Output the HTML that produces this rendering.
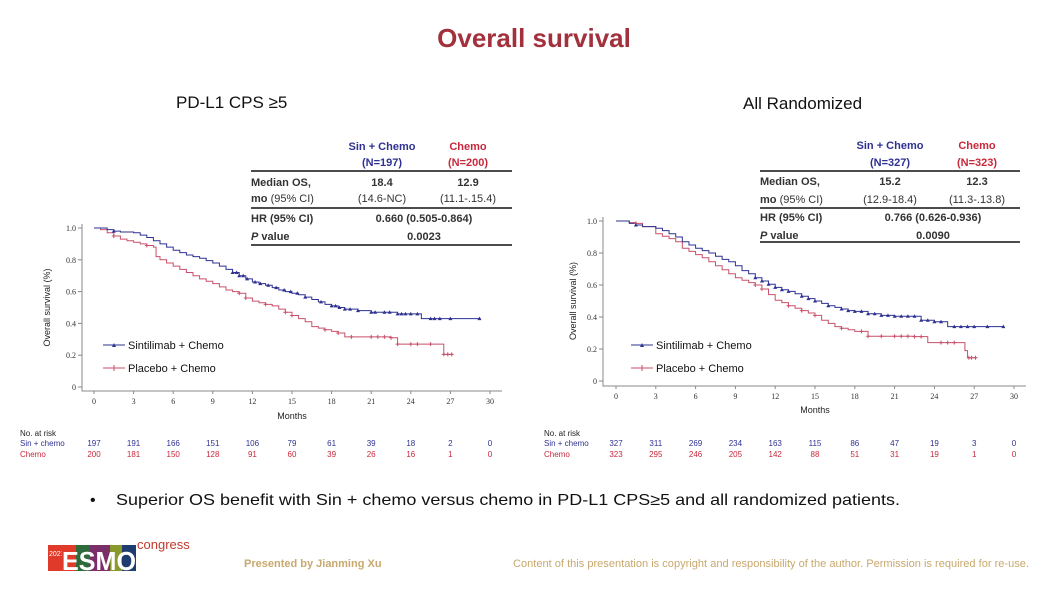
<!DOCTYPE html>
<html><head><meta charset="utf-8">
<style>
html,body{margin:0;padding:0;background:#fff;}
svg{display:block;font-family:"Liberation Sans",Arial,sans-serif;}
.tk{font-family:"Liberation Serif",serif;font-size:8px;fill:#333;}
</style></head>
<body>
<svg id="s" width="1061" height="593" viewBox="0 0 1061 593" xmlns="http://www.w3.org/2000/svg">
<text x="534" y="47" text-anchor="middle" font-size="26" font-weight="bold" fill="#a3313d">Overall survival</text>
<text x="176" y="108" font-size="17" fill="#111">PD-L1 CPS ≥5</text>
<text x="743" y="109" font-size="17" fill="#111">All Randomized</text>

<g font-size="11" font-weight="bold">
<text x="382" y="150" text-anchor="middle" fill="#2e3192">Sin + Chemo</text>
<text x="382" y="166" text-anchor="middle" fill="#2e3192">(N=197)</text>
<text x="468" y="150" text-anchor="middle" fill="#c8283c">Chemo</text>
<text x="468" y="166" text-anchor="middle" fill="#c8283c">(N=200)</text>
<line x1="251" y1="171" x2="512" y2="171" stroke="#111" stroke-width="1.5"/>
<text x="251" y="186" fill="#333">Median OS,</text>
<text x="251" y="202" fill="#333">mo <tspan font-weight="normal">(95% CI)</tspan></text>
<text x="382" y="186" text-anchor="middle" fill="#333">18.4</text>
<text x="468" y="186" text-anchor="middle" fill="#333">12.9</text>
<text x="382" y="202" text-anchor="middle" fill="#333" font-weight="normal">(14.6-NC)</text>
<text x="468" y="202" text-anchor="middle" fill="#333" font-weight="normal">(11.1-.15.4)</text>
<line x1="251" y1="208" x2="512" y2="208" stroke="#111" stroke-width="1.5"/>
<text x="251" y="222" fill="#333">HR (95% CI)</text>
<text x="424" y="222" text-anchor="middle" fill="#333">0.660 (0.505-0.864)</text>
<text x="251" y="240" fill="#333"><tspan font-style="italic">P</tspan> value</text>
<text x="424" y="240" text-anchor="middle" fill="#333">0.0023</text>
<line x1="251" y1="245" x2="512" y2="245" stroke="#111" stroke-width="1.5"/>
</g>

<g font-size="11" font-weight="bold">
<text x="890" y="149" text-anchor="middle" fill="#2e3192">Sin + Chemo</text>
<text x="890" y="166" text-anchor="middle" fill="#2e3192">(N=327)</text>
<text x="977" y="149" text-anchor="middle" fill="#c8283c">Chemo</text>
<text x="977" y="166" text-anchor="middle" fill="#c8283c">(N=323)</text>
<line x1="760" y1="171" x2="1020" y2="171" stroke="#111" stroke-width="1.5"/>
<text x="760" y="185" fill="#333">Median OS,</text>
<text x="760" y="203" fill="#333">mo <tspan font-weight="normal">(95% CI)</tspan></text>
<text x="890" y="185" text-anchor="middle" fill="#333">15.2</text>
<text x="977" y="185" text-anchor="middle" fill="#333">12.3</text>
<text x="890" y="203" text-anchor="middle" fill="#333" font-weight="normal">(12.9-18.4)</text>
<text x="977" y="203" text-anchor="middle" fill="#333" font-weight="normal">(11.3-.13.8)</text>
<line x1="760" y1="208" x2="1020" y2="208" stroke="#111" stroke-width="1.5"/>
<text x="760" y="221" fill="#333">HR (95% CI)</text>
<text x="933" y="221" text-anchor="middle" fill="#333">0.766 (0.626-0.936)</text>
<text x="760" y="239" fill="#333"><tspan font-style="italic">P</tspan> value</text>
<text x="933" y="239" text-anchor="middle" fill="#333">0.0090</text>
<line x1="760" y1="242" x2="1020" y2="242" stroke="#111" stroke-width="1.5"/>
</g>

<g id="left"></g>
<g id="right"></g>

<text x="90" y="505" font-size="16" fill="#111">•</text>
<text x="116" y="505" font-size="16" fill="#111" textLength="784" lengthAdjust="spacingAndGlyphs">Superior OS benefit with Sin + chemo versus chemo in PD-L1 CPS≥5 and all randomized patients.</text>

<g>
<rect x="48" y="545" width="14" height="26" fill="#e03a2a"/>
<text x="49" y="556" font-size="7" fill="#fff">2021</text>
<rect x="62" y="545" width="14" height="26" fill="#e03a2a"/>
<rect x="76" y="545" width="14" height="26" fill="#2f6b3a"/>
<rect x="90" y="545" width="20" height="26" fill="#7a2e6a"/>
<rect x="110" y="545" width="12" height="26" fill="#8a9a2a"/>
<rect x="122" y="545" width="14" height="26" fill="#1f3c6e"/>
<text x="62" y="570" font-size="26" font-weight="bold" fill="#fff" textLength="74" lengthAdjust="spacingAndGlyphs">ESMO</text>
<text x="137" y="549" font-size="13" fill="#c0392b">congress</text>
</g>
<text x="244" y="567" font-size="11" fill="#c8a86e" font-weight="bold">Presented by Jianming Xu</text>
<text x="1029" y="567" text-anchor="end" font-size="11" fill="#c8a86e" textLength="516" lengthAdjust="spacingAndGlyphs">Content of this presentation is copyright and responsibility of the author. Permission is required for re-use.</text>
</svg>
<script>
const xTicks = [0,3,6,9,12,15,18,21,24,27,30];
const yTicks = [0,0.2,0.4,0.6,0.8,1.0];
const yTickLabels = ['0','0.2','0.4','0.6','0.8','1.0'];
// Left (PD-L1 CPS>=5)
const L_sinT = [0,1,1.5,2,3,3.5,4,4.5,5,5.5,6,6.5,7,7.5,8,8.5,9,9.5,10,10.5,11,11.5,12,12.5,13,13.5,14,14.5,15,15.5,16,16.5,17,17.5,18,18.5,19,20,21,22,23,24,24.8,29.3];
const L_sinS = [1,.99,.98,.975,.97,.955,.94,.92,.9,.88,.86,.845,.83,.82,.81,.795,.78,.76,.74,.72,.70,.68,.66,.65,.64,.625,.61,.60,.59,.58,.565,.55,.535,.52,.51,.50,.49,.48,.47,.47,.46,.46,.43,.43];
const L_cheT = [0,.5,1,1.5,2,2.5,3,3.5,4,4.5,4.7,5,5.5,6,6.5,7,7.5,8,8.5,9,9.5,10,10.5,11,11.5,12,12.5,13,13.5,14,14.5,15,15.5,16,16.5,17,17.5,18,18.5,19,21,22.5,23,25,26.5,27.2];
const L_cheS = [1,.99,.97,.95,.93,.92,.91,.9,.89,.88,.82,.80,.78,.76,.74,.72,.70,.68,.665,.65,.63,.61,.60,.59,.56,.54,.53,.52,.51,.49,.47,.45,.43,.41,.38,.37,.36,.35,.34,.315,.315,.31,.27,.27,.205,.205];
const L_sinCens = [1.5,10.5,10.8,11,11.3,11.6,12.2,12.6,13.2,13.8,14.4,14.9,15.4,16,17.2,18,18.3,18.6,19,19.4,20,21,21.3,22,22.4,23,23.3,23.6,24,24.5,25.5,25.8,26.2,27,29.2];
const L_cheCens = [1.5,4,11,11.5,13,14.5,15,17.5,18.5,19.5,21,21.5,22,22.5,23,24,24.5,25.5,26.5,26.8,27.1];
const L_riskSin = [197,191,166,151,106,79,61,39,18,2,0];
const L_riskChe = [200,181,150,128,91,60,39,26,16,1,0];
// Right (All randomized)
const R_sinT = [0,1,1.5,2,3,3.5,4,4.5,5,5.5,6,6.5,7,7.5,8,8.5,9,9.5,10,10.5,11,11.5,12,12.5,13,13.5,14,14.5,15,15.5,16,16.5,17,17.5,18,19,20,21,22.5,23,24,25,29.2];
const R_sinS = [1,.985,.975,.965,.955,.94,.92,.9,.87,.85,.83,.815,.8,.78,.76,.745,.72,.69,.67,.645,.625,.605,.585,.57,.56,.545,.53,.515,.50,.485,.47,.46,.45,.44,.435,.42,.41,.405,.405,.38,.37,.34,.34];
const R_cheT = [0,1,1.5,2,3,3.5,4,4.5,5,5.5,6,6.5,7,7.5,8,8.5,9,9.5,10,10.5,11,11.5,12,12.5,13,13.5,14,14.5,15,15.5,16,16.5,17,17.5,18,19,22.5,23.5,26,26.3,26.5,27.2];
const R_cheS = [1,.99,.985,.965,.92,.905,.89,.87,.83,.81,.79,.77,.745,.72,.695,.67,.645,.63,.615,.60,.575,.54,.505,.49,.47,.455,.44,.425,.41,.38,.36,.34,.33,.32,.31,.28,.277,.24,.24,.19,.145,.145];
const R_sinCens = [1.5,10.5,11,11.5,12,12.5,13,14,14.5,15,16,17,17.5,18,18.5,19,19.5,20,20.5,21,21.5,22,22.5,23,23.5,24,24.5,25.5,26,26.5,27,28,29.2];
const R_cheCens = [1.5,10.5,11,13,14,15,17,18.5,19,20,21,21.5,22,22.5,23,24.5,25,25.5,26.6,26.8,27.1];
const R_riskSin = [327,311,269,234,163,115,86,47,19,3,0];
const R_riskChe = [323,295,246,205,142,88,51,31,19,1,0];

const NS='http://www.w3.org/2000/svg';
function mk(parent,tag,attrs,text){const e=document.createElementNS(NS,tag);for(const k in attrs)e.setAttribute(k,attrs[k]);if(text!==undefined)e.textContent=text;parent.appendChild(e);return e;}
const BLUE='#2e3192', RED='#c8506a';
function drawKM(g,c,sinT,sinS,cheT,cheS,sinC,cheC,rSin,rChe){
  const X=t=>c.x0+(c.x1-c.x0)*t/30;
  const Y=s=>c.y0+(c.y1-c.y0)*s;
  const surv=(T,S,t)=>{let v=S[0];for(let i=0;i<T.length;i++){if(T[i]<=t)v=S[i];}return v;};
  const ax=mk(g,'path',{d:`M${c.ax} ${c.y1-4}V${c.bx}H${X(30)+12}`,fill:'none',stroke:'#888','stroke-width':1});
  
  
  xTicks.forEach(t=>{
    mk(g,'line',{x1:X(t),x2:X(t),y1:c.bx,y2:c.bx+3,stroke:'#888'});
    const l=mk(g,'text',{x:X(t),y:c.bx+13,'text-anchor':'middle',class:'tk'},String(t));
    
    
  });
  yTicks.forEach((v,i)=>{
    mk(g,'line',{x1:c.ax-4,x2:c.ax,y1:Y(v),y2:Y(v),stroke:'#888'});
    const l=mk(g,'text',{x:c.ax-6,y:Y(v)+3,'text-anchor':'end',class:'tk'},yTickLabels[i]);
    
    
  });
  const xt=mk(g,'text',{x:(X(0)+X(30))/2,y:c.mon,'text-anchor':'middle','font-size':9,fill:'#222'},'Months');
  
  
  const yt=mk(g,'text',{x:0,y:0,'text-anchor':'middle','font-size':9,fill:'#222',transform:`translate(${c.ytx},${(c.y0+c.y1)/2}) rotate(-90)`},'Overall survival (%)');
  
  
  function step(T,S,col,name){
    let d=`M${X(T[0])} ${Y(S[0])}`;
    for(let i=1;i<T.length;i++){d+=`H${X(T[i])}V${Y(S[i])}`;}
    const p=mk(g,'path',{d,fill:'none',stroke:col,'stroke-width':1});
    
    
  }
  step(cheT,cheS,RED,'placebo-chemo-curve');
  step(sinT,sinS,BLUE,'sintilimab-chemo-curve');
  cheC.forEach(t=>{const x=X(t),y=Y(surv(cheT,cheS,t));
    const m=mk(g,'path',{d:`M${x-2} ${y}H${x+2}M${x} ${y-2}V${y+2}`,stroke:RED,'stroke-width':1});
    
    });
  sinC.forEach(t=>{const x=X(t),y=Y(surv(sinT,sinS,t));
    const m=mk(g,'path',{d:`M${x-2} ${y+1.5}L${x} ${y-2}L${x+2} ${y+1.5}Z`,fill:BLUE});
    
    });
  const lg=mk(g,'g',{});
  
  
  mk(lg,'line',{x1:c.lx,x2:c.lx+22,y1:c.ly,y2:c.ly,stroke:BLUE});
  mk(lg,'path',{d:`M${c.lx+9} ${c.ly+2}L${c.lx+11} ${c.ly-2}L${c.lx+13} ${c.ly+2}Z`,fill:BLUE});
  mk(lg,'text',{x:c.lx+25,y:c.ly+4,'font-size':11,fill:'#111'},'Sintilimab + Chemo');
  mk(lg,'line',{x1:c.lx,x2:c.lx+22,y1:c.ly+23,y2:c.ly+23,stroke:RED});
  mk(lg,'path',{d:`M${c.lx+11} ${c.ly+20}V${c.ly+26}`,stroke:RED});
  mk(lg,'text',{x:c.lx+25,y:c.ly+27,'font-size':11,fill:'#111'},'Placebo + Chemo');
  const rk=mk(g,'g',{'font-size':8});
  
  
  mk(rk,'text',{x:c.rx,y:436,fill:'#222'},'No. at risk');
  mk(rk,'text',{x:c.rx,y:446,fill:BLUE},'Sin + chemo');
  mk(rk,'text',{x:c.rx,y:457,fill:'#c8283c'},'Chemo');
  xTicks.forEach((t,i)=>{
    mk(rk,'text',{x:X(t),y:446,'text-anchor':'middle',fill:BLUE},String(rSin[i]));
    mk(rk,'text',{x:X(t),y:457,'text-anchor':'middle',fill:'#c8283c'},String(rChe[i]));
  });
}
drawKM(document.getElementById('left'),{x0:94,x1:490,y0:387,y1:228,ax:82,bx:391,mon:419,ytx:50,lx:103,ly:345,rx:20},
  L_sinT,L_sinS,L_cheT,L_cheS,L_sinCens,L_cheCens,L_riskSin,L_riskChe);
drawKM(document.getElementById('right'),{x0:616,x1:1014,y0:381,y1:221,ax:603,bx:386,mon:413,ytx:576,lx:631,ly:345,rx:544},
  R_sinT,R_sinS,R_cheT,R_cheS,R_sinCens,R_cheCens,R_riskSin,R_riskChe);
</script>
</body></html>
